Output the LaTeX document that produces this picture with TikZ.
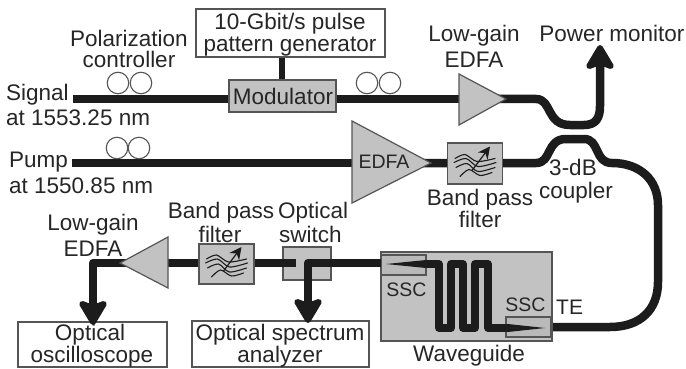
\documentclass[tikz,border=0pt]{standalone}
\usepackage{fontspec}
\setmainfont{Liberation Sans}
\usetikzlibrary{arrows.meta}
\definecolor{ink}{HTML}{1C1C1C}
\definecolor{txt}{HTML}{262626}
\definecolor{edge}{HTML}{555555}
\definecolor{panel}{HTML}{C2C2C2}
\tikzset{
  fibre/.style={draw=ink,line width=8.5pt,line cap=butt,line join=round},
  fibrearrow/.style={fibre,-{Stealth[length=29pt,width=34pt,inset=6pt,round]}},
  whitebox/.style={draw=edge,line width=1.3pt,fill=white,inner sep=0pt,align=center,text=txt},
  graybox/.style={draw=edge,line width=1.4pt,fill=panel,inner sep=0pt,text=txt},
  amp/.style={draw=edge,line width=1.2pt,fill=panel,line join=miter},
  ring/.style={circle,draw=edge,line width=1.1pt,minimum size=21.5pt,inner sep=0pt},
  lab/.style={anchor=base,inner sep=0pt,align=center,text=txt},
  labl/.style={anchor=base west,inner sep=0pt,align=left,text=txt},
  small/.style={font=\fontsize{19.5}{22}\selectfont},
  bpsym/.pic={
    \draw[ink,line width=1.1pt,line cap=round] plot[smooth] coordinates {(-20,-5) (-10,-9) (2,-2) (20,-5)};
    \draw[ink,line width=1.1pt,line cap=round] plot[smooth] coordinates {(-21,-1) (-9,-5) (3,3) (21,-1)};
    \draw[ink,line width=1.1pt,line cap=round] plot[smooth] coordinates {(-19,4) (-8,0) (3,8) (20,4)};
    \draw[ink,line width=1.1pt,line cap=round] plot[smooth] coordinates {(-15,13) (-6,6) (5,12) (17,9)};
    \draw[ink,line width=1.2pt,-{Stealth[length=12pt,width=12pt]}] (-3,7) -- (15,-17);
  }
}
\begin{document}
\begin{tikzpicture}[x=1pt,y=-1pt,font=\fontsize{22.5}{23}\selectfont]
\useasboundingbox (0,0) rectangle (686,369);

% named anchor points
\coordinate (sigstart) at (73,99);
\coordinate (pumpstart) at (72,163);
\coordinate (pmtip) at (600,45);
\coordinate (ampAbase) at (459,99);
\coordinate (ampAtip) at (498,99);
\coordinate (ampBbase) at (352,163);
\coordinate (ampBtip) at (423,163);
\coordinate (ampCbase) at (168,263);
\coordinate (ampCtip) at (128,263);
\coordinate (osctip) at (93,325);
\coordinate (osatip) at (308,323);
\coordinate (swin) at (296,263);
\coordinate (wgin) at (381,263);
\coordinate (wgout) at (551,327);

% fibres
\draw[fibre] (sigstart) -- (ampAbase);
\draw[fibre] (pumpstart) -- (ampBbase);
\node[whitebox,minimum width=189pt,minimum height=48pt] (ppg) at (290.5,33) {};
\node[graybox,minimum width=107pt,minimum height=32pt] (mod) at (282.5,96) {};
\draw[ink,line width=5.5pt] (ppg.south -| 282,0) -- (mod.north -| 282,0);

\draw[fibrearrow] (ampAtip) -- (536,99) .. controls (552,99) and (546,125) .. (570,125) -- (584,125) .. controls (596,125) and (600,118) .. (600,106) -- (pmtip);
\draw[fibre] (ampBtip) -- (536,163) .. controls (552,163) and (546,139) .. (566,139) -- (584,139) .. controls (600,139) and (594,163) .. (612,163) .. controls (640,163) and (658,180) .. (658,205) -- (658,282) .. controls (658,310) and (640,327) .. (610,327) -- (wgout);

% waveguide chip
\node[graybox,minimum width=171pt,minimum height=89pt] (chip) at (466.5,296.5) {};
\node[draw=edge,line width=1.2pt,fill=black!30,fill opacity=0.5,inner sep=0pt,minimum width=45pt,minimum height=20pt] (sscA) at (403.5,265) {};
\node[draw=edge,line width=1.2pt,fill=black!30,fill opacity=0.5,inner sep=0pt,minimum width=45pt,minimum height=20pt] (sscB) at (528.5,327) {};
\draw[fibre,line width=7.5pt] (424,264) -- (439,264) -- (439,328) -- (451,328) -- (451,264) -- (463,264) -- (463,328) -- (475,328) -- (475,264) -- (488,264) -- (488,328) -- (510,328);
\fill[ink] (386,264) -- (426,260) -- (426,268) -- cycle;
\fill[ink] (545,328) -- (508,324) -- (508,332) -- cycle;

% switch and output fibres
\node[graybox,minimum width=48pt,minimum height=33pt] (sw) at (307,263.5) {};
\node[whitebox,minimum width=149pt,minimum height=45pt] (osc) at (92.5,344.5) {};
\node[whitebox,minimum width=177pt,minimum height=46pt] (osa) at (280.5,344) {};
\draw[fibre] (ampCbase) -- (swin);
\draw[fibrearrow] (ampCtip) -- (93,263) -- (osctip);
\draw[fibrearrow] (wgin) -- (308,263) -- (osatip);

% filters
\node[graybox,minimum width=55pt,minimum height=41pt] (bpA) at (475,163.5) {};
\node[graybox,minimum width=55pt,minimum height=40pt] (bpB) at (226.5,264) {};
\pic at (bpA) {bpsym};
\pic at (bpB) {bpsym};

% amplifiers
\draw[amp] (459,74) -- (506,99) -- (459,125) -- cycle;
\draw[amp] (352,121) -- (431,163) -- (352,203) -- cycle;
\draw[amp] (168,237) -- (120,263) -- (168,288) -- cycle;

% polarization controllers
\node[ring] (pc1) at (118,83) {};
\node[ring] (pc2) at (141,83) {};
\node[ring] (pc3) at (367,83) {};
\node[ring] (pc4) at (390,83) {};
\node[ring] (pc5) at (117,148) {};
\node[ring] (pc6) at (139,148) {};

% text
\node[lab] (tppg) at (290,30) {10-Gbit/s pulse};
\node[lab] (tppgb) at (290,52) {pattern generator};
\node[lab] (tmod) at (283,105) {Modulator};
\node[lab] (tpol) at (129,47) {Polarization};
\node[lab] (tpolb) at (129,68) {controller};
\node[labl] (tsig) at (6,101) {Signal};
\node[labl] (tsigb) at (6,125) {at 1553.25 nm};
\node[labl] (tpump) at (9,167) {Pump};
\node[labl] (tpumpb) at (9,193) {at 1550.85 nm};
\node[lab] (tlg) at (474,42) {Low-gain};
\node[lab] (tlgb) at (474,68) {EDFA};
\node[lab] (tpm) at (612,42) {Power monitor};
\node[lab,small] (tedfa) at (384,168) {EDFA};
\node[lab] (tbp) at (480,205) {Band pass};
\node[lab] (tbpb) at (480,227) {filter};
\node[lab] (tcp) at (573,175) {3-dB};
\node[lab] (tcpb) at (576,198) {coupler};
\node[lab] (tlg2) at (93,230) {Low-gain};
\node[lab] (tlg2b) at (93,256) {EDFA};
\node[lab] (tbp2) at (221,218) {Band pass};
\node[lab] (tbp2b) at (220,242) {filter};
\node[labl] (tos) at (278,218) {Optical};
\node[labl] (tosb) at (279,242) {switch};
\node[lab] (tosc) at (90,340) {Optical};
\node[lab] (toscb) at (92,362) {oscilloscope};
\node[lab] (tosa) at (280,340) {Optical spectrum};
\node[lab] (tosab) at (280,362) {analyzer};
\node[lab,small] (ts1) at (406.5,296) {SSC};
\node[lab,small] (ts2) at (525.5,311) {SSC};
\node[labl,font=\fontsize{21}{22}\selectfont] (tte) at (556,314) {TE};
\node[lab] (twg) at (469,361) {Waveguide};
\end{tikzpicture}
\end{document}
